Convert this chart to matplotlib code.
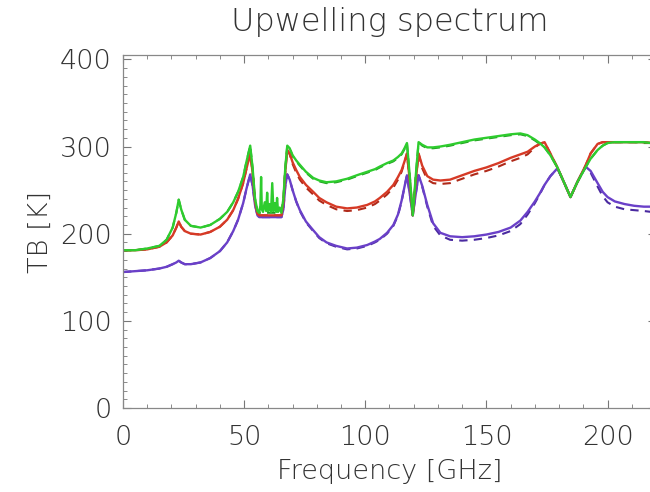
import numpy as np
import matplotlib
matplotlib.use("Agg")
import matplotlib.pyplot as plt
from matplotlib.ticker import MultipleLocator

# Frequency grid [GHz]
freq = [0, 5, 10, 15, 18, 20.5, 22, 23, 24, 25.5, 28, 32, 36, 40, 43, 45.5, 47.5, 49.6, 51, 52.5, 53.5, 54.5, 55.5,
        56.2, 56.7, 57.0, 57.3, 57.8, 58.5, 59.1, 59.5, 59.9, 60.5, 61.1, 61.6, 62.1, 62.7, 63.2, 63.6, 64.0, 64.7, 65.4,
        66.2, 67.0, 67.8, 68.8, 70.0, 71.5, 73, 75.5, 78.5, 81, 84, 88, 92.5, 96.5, 100.8, 104, 106, 109, 111.6, 113.5,
        115, 116.2, 117.2, 118.4, 119.6, 120.8, 122,
        123.5, 125.6, 128, 131, 135, 140, 145, 150, 155, 160, 164, 167, 170, 172, 174, 176.4, 179.3, 182, 184.7, 187.5,
        190.9, 193, 195.9, 198, 200, 203, 207, 211, 215, 218]

# Brightness temperatures [K]
tb_green = [181, 181, 183, 186, 193, 207, 224, 239, 228, 216, 209, 207, 210, 217, 225, 236, 248, 265, 283, 301, 275, 240, 226,
            224, 232, 265, 228, 225, 236, 226, 247, 226, 234, 225, 258, 226, 235, 225, 241, 225, 230, 224,
            240, 276, 301, 298, 290, 284, 279, 271, 264, 261, 259, 260, 263, 267, 271, 274, 277, 281, 284, 288,
            292, 298, 304, 265, 221, 265, 305,
            302, 299, 299, 300, 302, 305, 308, 310, 312, 314, 315, 313, 308, 304, 299, 290, 276, 259, 242, 259,
            276, 286, 296, 301, 304, 305, 305, 305, 305, 304]
tb_green_d = [181, 181, 183, 186, 193, 207, 224, 239, 228, 216, 209, 207, 210, 217, 225, 236, 248, 265, 283, 301, 275, 240, 226,
              224, 224, 224, 224, 224, 224, 224, 224, 224, 224, 224, 224, 224, 224, 224, 224, 224, 224, 224,
              240, 276, 301, 298, 289, 283, 278, 270, 263, 260, 258, 259, 262, 266, 270, 273, 276, 280, 283, 287,
              291, 297, 304, 265, 221, 265, 305,
              301, 298, 298, 299, 301, 304, 307, 309, 311, 313, 314, 312, 307, 303, 299, 290, 276, 259, 242, 259,
              276, 286, 296, 301, 304, 305, 305, 305, 304, 304]
tb_red = [181, 181, 182, 185, 190, 198, 207, 214, 208, 203, 200, 199, 202, 208, 216, 227, 240, 258, 275, 292, 270, 237, 223,
          221, 221, 221, 221, 221, 221, 221, 221, 221, 221, 221, 221, 221, 221, 221, 221, 221, 221, 221,
          236, 272, 296, 292, 282, 273, 265, 256, 248, 241, 236, 231, 229, 230, 233, 237, 241, 248, 256, 265,
          273, 283, 292, 260, 221, 260, 292,
          278, 266, 262, 261, 262, 267, 272, 276, 281, 287, 291, 294, 300, 303, 305, 292, 276, 259, 242, 259,
          278, 292, 303, 305, 305, 305, 305, 305, 305, 304]
tb_red_d = [181, 181, 182, 185, 190, 198, 207, 214, 208, 203, 200, 199, 202, 208, 216, 227, 240, 258, 275, 292, 270, 237, 223,
            221, 221, 221, 221, 221, 221, 221, 221, 221, 221, 221, 221, 221, 221, 221, 221, 221, 221, 221,
            236, 272, 296, 291, 280, 270, 262, 253, 245, 238, 233, 228, 226, 227, 230, 234, 238, 245, 253, 262,
            271, 282, 292, 260, 221, 260, 292,
            275, 262, 258, 257, 258, 263, 268, 272, 277, 283, 287, 291, 299, 303, 305, 292, 276, 259, 242, 259,
            278, 292, 303, 305, 305, 305, 305, 305, 305, 304]
tb_blue = [156, 157, 158, 160, 162, 165, 167, 169, 167, 165, 165, 167, 172, 180, 190, 203, 216, 235, 252, 268, 255, 233, 221,
           219, 219, 219, 219, 219, 219, 219, 219, 219, 219, 219, 219, 219, 219, 219, 219, 219, 219, 219,
           228, 255, 268, 262, 250, 237, 227, 214, 204, 196, 190, 186, 183, 184, 187, 191, 194, 201, 210, 222,
           238, 254, 267, 245, 221, 245, 267,
           255, 233, 212, 201, 197, 196, 197, 199, 202, 207, 215, 225, 237, 246, 256, 266, 275, 259, 242, 259,
           277, 272, 258, 248, 242, 237, 234, 232, 231, 231]
tb_blue_d = [156, 157, 158, 160, 162, 165, 167, 169, 167, 165, 165, 167, 172, 180, 190, 203, 216, 235, 252, 268, 255, 233, 221,
             219, 219, 219, 219, 219, 219, 219, 219, 219, 219, 219, 219, 219, 219, 219, 219, 219, 219, 219,
             228, 255, 268, 262, 250, 237, 226, 213, 203, 195, 189, 185, 182, 183, 186, 190, 193, 200, 209, 221,
             237, 254, 267, 245, 221, 245, 267,
             254, 231, 209, 198, 193, 192, 193, 195, 198, 203, 211, 222, 235, 245, 256, 266, 275, 259, 242, 259,
             276, 270, 254, 243, 236, 231, 228, 227, 226, 225]

c_green = "#2ecc2e"
c_red = "#d63a26"
c_blue = "#6a40c8"

plt.rcParams['font.family'] = ['DejaVu Sans']
plt.rcParams['font.weight'] = 'light'
plt.rcParams['axes.titleweight'] = 'light'
plt.rcParams['axes.labelweight'] = 'light'
txt = "#333333"

fig = plt.figure(figsize=(6.5, 4.92), dpi=100)
ax = fig.add_axes([123 / 650, 1 - 408 / 492, 533 / 650, 353 / 492])

ax.plot(freq, tb_blue_d, color="#4a2aa0", lw=1.5, ls=(0, (4, 3)))
ax.plot(freq, tb_red_d, color="#b02a1a", lw=1.5, ls=(0, (4, 3)))
ax.plot(freq, tb_green_d, color="#229a22", lw=1.5, ls=(0, (4, 3)))
ax.plot(freq, tb_blue, color=c_blue, lw=1.7)
ax.plot(freq, tb_red, color=c_red, lw=1.7)
ax.plot(freq, tb_green, color=c_green, lw=1.7)

ax.set_xlim(0, 220)
ax.set_ylim(0, 405)
ax.xaxis.set_major_locator(MultipleLocator(50))
ax.xaxis.set_minor_locator(MultipleLocator(10))
ax.yaxis.set_major_locator(MultipleLocator(100))
ax.yaxis.set_minor_locator(MultipleLocator(10))
ax.tick_params(which="both", direction="in", top=True, right=True, colors="#777777",
               labelcolor=txt, labelsize=19.5)
ax.tick_params(which="major", length=6, width=0.8)
ax.tick_params(which="minor", length=3, width=0.6)
ax.tick_params(axis="x", pad=12)
ax.tick_params(axis="y", pad=8)
for s in ax.spines.values():
    s.set_color("#888888")
    s.set_linewidth(0.9)

ax.set_title("Upwelling spectrum", fontsize=23, color=txt, pad=17)
ax.set_xlabel("Frequency [GHz]", fontsize=19.5, color=txt, labelpad=7)
ax.set_ylabel("TB [K]", fontsize=19.5, color=txt, labelpad=5)

fig.savefig("out.png", dpi=100)
